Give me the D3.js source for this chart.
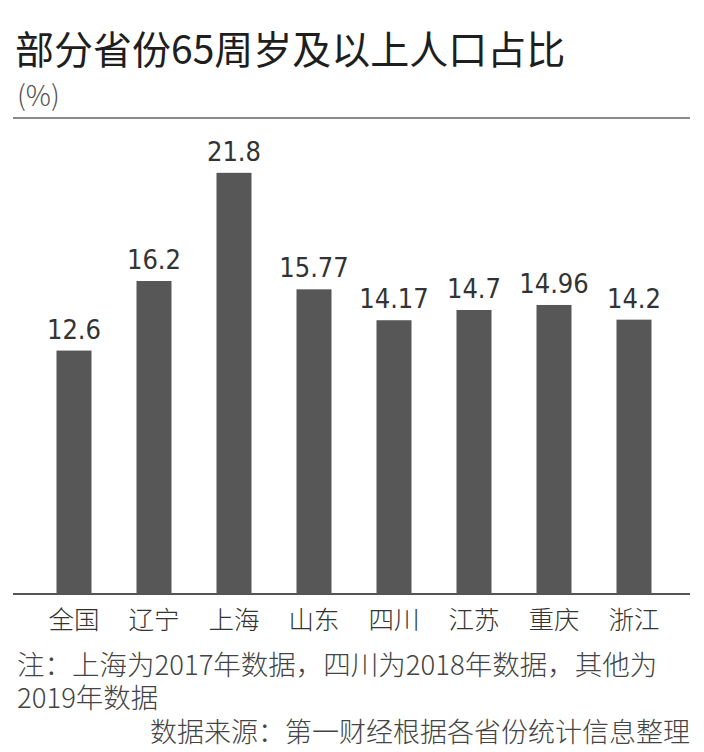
<!DOCTYPE html>
<html><head><meta charset="utf-8">
<script src="https://cdn.jsdelivr.net/npm/d3@7"></script>
<style>
html,body{margin:0;padding:0;background:#fff;}
svg{display:block;}
</style></head>
<body>
<script>
const categories = ["全国","辽宁","上海","山东","四川","江苏","重庆","浙江"];
const values = [12.6, 16.2, 21.8, 15.77, 14.17, 14.7, 14.96, 14.2];
const valueLabels = ["12.6","16.2","21.8","15.77","14.17","14.7","14.96","14.2"];
const title = "部分省份65周岁及以上人口占比";
const unit = "(%)";
const noteLines = ["注：上海为2017年数据，四川为2018年数据，其他为","2019年数据"];
const source = "数据来源：第一财经根据各省份统计信息整理";

const W = 704, H = 752;
const svg = d3.select("body").append("svg").attr("width", W).attr("height", H);
const cjk = "'Noto Sans CJK SC','Noto Sans',sans-serif";

const x = d3.scaleBand().domain(categories).range([34, 674]).paddingInner(0.5625).paddingOuter(0.28125);
const y = d3.scaleLinear().domain([0, 25]).range([594, 594 - 25 * 19.32]);

svg.append("text").attr("x", 15).attr("y", 64).text(title)
  .attr("font-family", cjk).attr("font-size", 39).attr("font-weight", 400).attr("fill", "#1e1e1e");
svg.append("text").attr("x", 17).attr("y", 106).text(unit)
  .attr("font-family", cjk).attr("font-size", 28).attr("font-weight", 300).attr("fill", "#555");

svg.append("line").attr("x1", 13).attr("x2", 690).attr("y1", 118).attr("y2", 118)
  .attr("stroke", "#8a8a8a").attr("stroke-width", 2);

svg.append("g").selectAll("rect").data(values).join("rect")
  .attr("x", (d, i) => x(categories[i]))
  .attr("y", d => y(d))
  .attr("width", x.bandwidth())
  .attr("height", d => y(0) - y(d))
  .attr("fill", "#575757");

svg.append("g").selectAll("text").data(values).join("text")
  .attr("x", (d, i) => x(categories[i]) + x.bandwidth() / 2)
  .attr("y", d => y(d) - 12)
  .attr("text-anchor", "middle")
  .attr("font-family", "'DejaVu Sans Condensed','DejaVu Sans',sans-serif")
  .attr("font-size", 27).attr("fill", "#333")
  .text((d, i) => valueLabels[i]);

svg.append("line").attr("x1", 13).attr("x2", 690).attr("y1", y(0)).attr("y2", y(0))
  .attr("stroke", "#555").attr("stroke-width", 2);

const xAxis = d3.axisBottom(x).tickSize(0).tickPadding(0);
const gx = svg.append("g").attr("transform", "translate(0,610)").call(xAxis);
gx.select(".domain").remove();
gx.selectAll("text").attr("font-family", cjk).attr("font-size", 25.5).attr("font-weight", 300)
  .attr("fill", "#333").attr("dy", "0.76em");

const note = svg.append("text").attr("x", 17).attr("y", 675)
  .attr("font-family", cjk).attr("font-size", 27.5).attr("font-weight", 300).attr("fill", "#444");
note.selectAll("tspan").data(noteLines).join("tspan")
  .attr("x", 17).attr("y", (d, i) => 675 + i * 33)
  .text(d => d);

svg.append("text").attr("x", 690).attr("y", 742).attr("text-anchor", "end").text(source)
  .attr("font-family", cjk).attr("font-size", 27).attr("font-weight", 300).attr("fill", "#444");
</script>
</body></html>
